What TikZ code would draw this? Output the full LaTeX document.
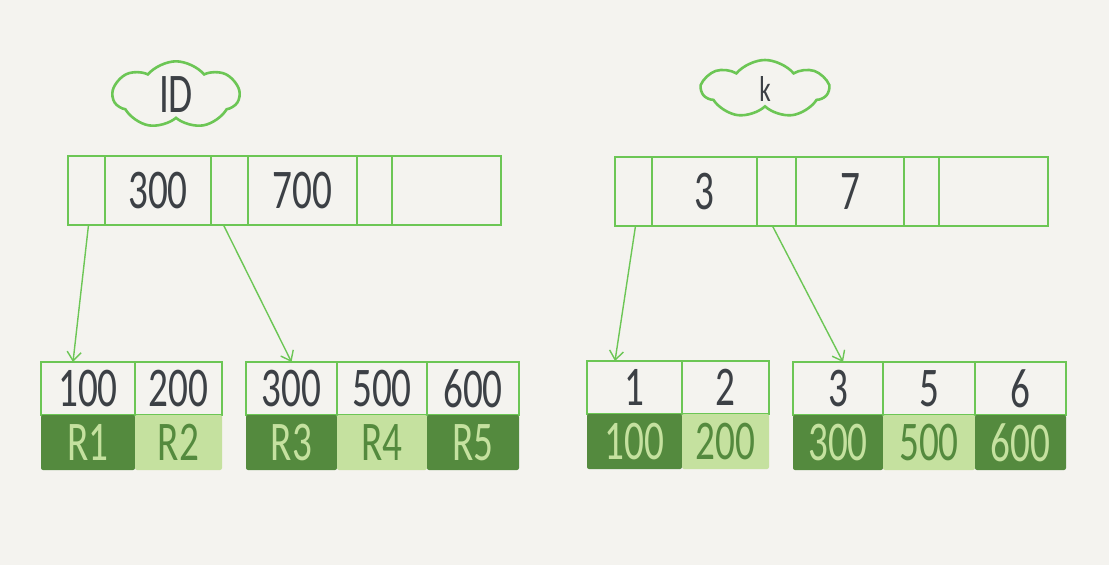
\documentclass[tikz,border=0pt]{standalone}
\usepackage{fontspec}
\newfontfamily\handfont[FakeStretch=0.7]{Carlito}
\usetikzlibrary{positioning,shapes.symbols,arrows.meta}
\definecolor{bgcol}{HTML}{F4F3EF}
\definecolor{linegreen}{HTML}{6CC655}
\definecolor{darkgreen}{HTML}{548A3E}
\definecolor{palegreen}{HTML}{C5E19F}
\definecolor{inkgray}{HTML}{3C4045}

\tikzset{
  cell/.style={draw=linegreen,line width=1.6pt,inner sep=0pt,outer sep=0pt,
    minimum height=69pt,text=inkgray,font=\handfont\fontsize{56}{56}\selectfont},
  leafcell/.style={cell,minimum height=53pt,fill=bgcol},
  dark/.style={fill=darkgreen,text=palegreen,inner sep=0pt,outer sep=0pt,
    minimum height=55pt,rounded corners=2pt,font=\handfont\fontsize{56}{56}\selectfont},
  light/.style={dark,fill=palegreen,text=darkgreen},
  tag/.style={cloud,cloud puffs=7,cloud puff arc=100,aspect=2.1,draw=linegreen,line width=2.6pt,
    minimum width=126pt,minimum height=58pt,inner sep=0pt,text=inkgray,
    font=\handfont\fontsize{56}{56}\selectfont},
  ptr/.style={-{Straight Barb[length=9pt,width=14pt]},draw=linegreen,line width=1.4pt}
}

\begin{document}
\begin{tikzpicture}[x=1pt,y=-1pt]
    \fill[bgcol] (0,0) rectangle (1109,565);
    \useasboundingbox (0,0) rectangle (1109,565);

    % index names
    \node[tag] (idtag) at (176,95) {ID};
    \node[tag,font=\handfont\fontsize{36}{36}\selectfont] (ktag) at (765,89) {k};

    % root page, primary key
    \node[cell,minimum width=37pt,anchor=north west] (tl0) at (68,156) {};
    \node[cell,minimum width=106pt,right=0pt of tl0] (tl1) {300};
    \node[cell,minimum width=37pt,right=0pt of tl1] (tl2) {};
    \node[cell,minimum width=109pt,right=0pt of tl2] (tl3) {700};
    \node[cell,minimum width=35pt,right=0pt of tl3] (tl4) {};
    \node[cell,minimum width=109pt,right=0pt of tl4] (tl5) {};

    % root page, index k
    \node[cell,minimum width=37pt,anchor=north west] (tr0) at (615,157) {};
    \node[cell,minimum width=105pt,right=0pt of tr0] (tr1) {3};
    \node[cell,minimum width=39pt,right=0pt of tr1] (tr2) {};
    \node[cell,minimum width=108pt,right=0pt of tr2] (tr3) {7};
    \node[cell,minimum width=35pt,right=0pt of tr3] (tr4) {};
    \node[cell,minimum width=109pt,right=0pt of tr4] (tr5) {};

    % leaf pages, primary key
    \node[leafcell,minimum width=94pt,anchor=north west] (l1a) at (41,362) {100};
    \node[leafcell,minimum width=87pt,right=0pt of l1a] (l1b) {200};
    \node[dark,minimum width=94pt,below=0pt of l1a] (r1a) {R1};
    \node[light,minimum width=87pt,below=0pt of l1b] (r1b) {R2};

    \node[leafcell,minimum width=91pt,anchor=north west] (l2a) at (246,362) {300};
    \node[leafcell,minimum width=90pt,right=0pt of l2a] (l2b) {500};
    \node[leafcell,minimum width=92pt,right=0pt of l2b] (l2c) {600};
    \node[dark,minimum width=91pt,below=0pt of l2a] (r2a) {R3};
    \node[light,minimum width=90pt,below=0pt of l2b] (r2b) {R4};
    \node[dark,minimum width=92pt,below=0pt of l2c] (r2c) {R5};

    % leaf pages, index k
    \node[leafcell,minimum width=95pt,anchor=north west] (k1a) at (587,361) {1};
    \node[leafcell,minimum width=87pt,right=0pt of k1a] (k1b) {2};
    \node[dark,minimum width=95pt,below=0pt of k1a] (s1a) {100};
    \node[light,minimum width=87pt,below=0pt of k1b] (s1b) {200};

    \node[leafcell,minimum width=90pt,anchor=north west] (k2a) at (793,362) {3};
    \node[leafcell,minimum width=92pt,right=0pt of k2a] (k2b) {5};
    \node[leafcell,minimum width=91pt,right=0pt of k2b] (k2c) {6};
    \node[dark,minimum width=90pt,below=0pt of k2a] (s2a) {300};
    \node[light,minimum width=92pt,below=0pt of k2b] (s2b) {500};
    \node[dark,minimum width=91pt,below=0pt of k2c] (s2c) {600};

    % pointers
    \draw[ptr] ([xshift=2pt]tl0.south) -- ([xshift=32pt]l1a.north west);
    \draw[ptr] ([xshift=-6pt]tl2.south) -- (l2a.north);
    \draw[ptr] ([xshift=2pt]tr0.south) -- ([xshift=28pt]k1a.north west);
    \draw[ptr] ([xshift=-4pt]tr2.south) -- ([xshift=5pt]k2a.north);
\end{tikzpicture}
\end{document}
